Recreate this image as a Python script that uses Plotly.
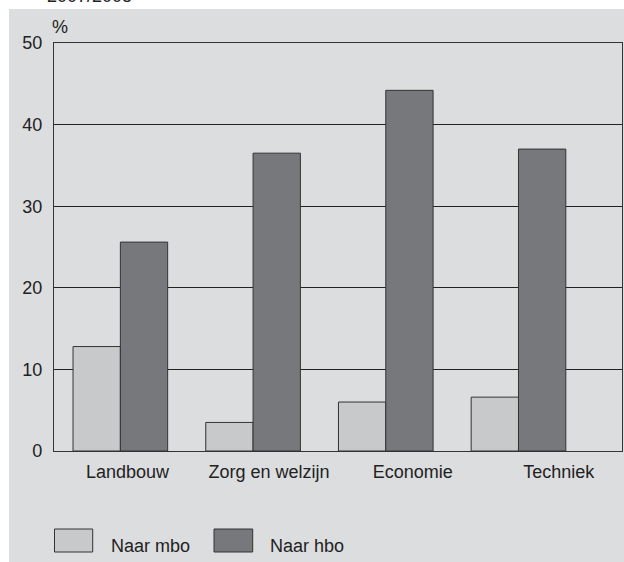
import plotly.graph_objects as go

categories = ["Landbouw", "Zorg en welzijn", "Economie", "Techniek"]
naar_mbo = [12.8, 3.5, 6.0, 6.6]
naar_hbo = [25.6, 36.5, 44.2, 37.0]
series_names = ["Naar mbo", "Naar hbo"]
y_ticks = [0, 10, 20, 30, 40, 50]
unit_label = "%"
top_text = "2007/2008"

# style
FONT = "Liberation Sans, Arial, sans-serif"
TXT = "#222222"
C_MBO = "#c8c9cb"
C_HBO = "#77787c"
EDGE = "#333333"
BG = "#dcdddf"

W, H = 624, 562
ML, MR, MT, MB = 54, 2, 43, 111
PW, PH = W - ML - MR, H - MT - MB

def px_x(px):
    return (px - ML) / PW

def px_y(py):
    return (H - MB - py) / PH

xs = list(range(len(categories)))
label_offsets = [0.054, 0.12, 0.204, 0.304]

fig = go.Figure()
for name, vals, col in [(series_names[0], naar_mbo, C_MBO), (series_names[1], naar_hbo, C_HBO)]:
    fig.add_trace(go.Bar(x=xs, y=vals, name=name, marker=dict(color=col, line=dict(color=EDGE, width=1)),
                         showlegend=False))

shapes = [
    dict(type="rect", xref="paper", yref="paper", x0=px_x(9), x1=px_x(630), y0=px_y(570), y1=px_y(9),
         fillcolor=BG, line=dict(width=0), layer="below"),
]
annotations = [
    dict(text=unit_label, xref="paper", yref="paper", x=px_x(60), y=px_y(27), showarrow=False,
         font=dict(size=18, color=TXT, family=FONT), xanchor="center", yanchor="middle"),
    dict(text=top_text, xref="paper", yref="paper", x=px_x(45), y=px_y(8), showarrow=False,
         font=dict(size=18, color=TXT, family=FONT), xanchor="left", yanchor="bottom"),
]
legend_boxes = [(54.5, 92.7, 109), (214, 252.7, 267.7)]
for (bx0, bx1, tx), name, col in zip(legend_boxes, series_names, [C_MBO, C_HBO]):
    shapes.append(dict(type="rect", xref="paper", yref="paper", x0=px_x(bx0), x1=px_x(bx1),
                       y0=px_y(552), y1=px_y(529), fillcolor=col, line=dict(color=EDGE, width=1)))
    annotations.append(dict(text=name, xref="paper", yref="paper", x=px_x(tx), y=px_y(546), showarrow=False,
                            font=dict(size=18, color=TXT, family=FONT), xanchor="left", yanchor="middle"))

fig.update_layout(
    width=W, height=H,
    margin=dict(l=ML, r=MR, t=MT, b=MB, pad=0),
    paper_bgcolor="white", plot_bgcolor="white",
    barmode="group", bargap=0.287, bargroupgap=0,
    font=dict(family=FONT, size=18, color=TXT),
    shapes=shapes, annotations=annotations,
    xaxis=dict(range=[-0.5, 3.78], tickvals=[x + o for x, o in zip(xs, label_offsets)], ticktext=categories,
               showgrid=False, zeroline=False, showline=True, mirror=True, linecolor=EDGE, linewidth=1.2,
               ticks="", ticklabelstandoff=4, tickfont=dict(size=18, color=TXT)),
    yaxis=dict(range=[0, 50], tickvals=y_ticks, showgrid=True, gridcolor="#222222", gridwidth=1,
               zeroline=False, showline=True, mirror=True, linecolor=EDGE, linewidth=1.2,
               ticks="", ticklabelstandoff=7, tickfont=dict(size=18, color=TXT)),
)

fig.write_html("out.html", config={"displayModeBar": False},
               post_script="document.body.style.margin='0';document.body.style.overflow='hidden';")
